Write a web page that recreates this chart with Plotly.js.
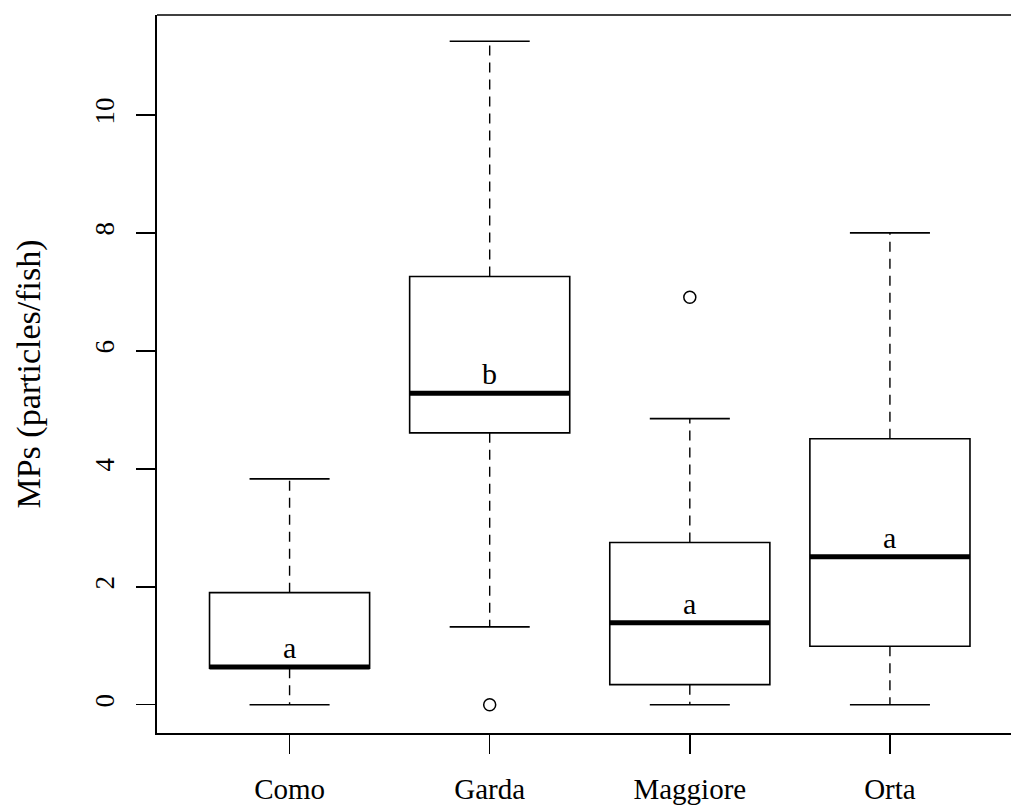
<!DOCTYPE html>
<html>
<head>
<meta charset="utf-8">
<script src="https://cdn.plot.ly/plotly-3.0.1.min.js"></script>
<style>html,body{margin:0;padding:0;background:#fff;overflow:hidden}#chart{width:1011px;height:810px}</style>
</head>
<body>
<div id="chart"></div>
<script>
// ---- data ----
const categories = ['Como', 'Garda', 'Maggiore', 'Orta'];
const q1 = [0.62, 4.61, 0.34, 0.99];
const median = [0.64, 5.28, 1.39, 2.51];
const q3 = [1.90, 7.26, 2.75, 4.51];
const lowerWhisker = [0, 1.32, 0, 0];
const upperWhisker = [3.83, 11.25, 4.85, 8.0];
const outlierCategory = ['Garda', 'Maggiore'];
const outlierValue = [0, 6.91];
const groupLetters = ['a', 'b', 'a', 'a'];
const yTicks = [0, 2, 4, 6, 8, 10];

// ---- styling ----
const FONT = '"Liberation Serif", "Times New Roman", serif';
const BOX_W = 0.8, CAP_W = 0.4;
const pos = categories.map((c, i) => i + 1);

const boxTrace = {
  type: 'box', x: pos, q1: q1, median: median, q3: q3,
  lowerfence: q1, upperfence: q3,
  width: BOX_W, whiskerwidth: 0,
  fillcolor: '#ffffff', line: {color: '#000', width: 1.6},
  boxpoints: false, hoverinfo: 'skip', showlegend: false
};

const wx = [], wy = [];
pos.forEach((p, i) => {
  wx.push(p, p, null, p, p, null);
  wy.push(q3[i], upperWhisker[i], null, q1[i], lowerWhisker[i], null);
});
const whiskers = {type: 'scatter', mode: 'lines', x: wx, y: wy,
  line: {color: '#000', width: 1.4, dash: '10px,7px'}, hoverinfo: 'skip', showlegend: false};

const cx = [], cy = [];
pos.forEach((p, i) => {
  cx.push(p - CAP_W / 2, p + CAP_W / 2, null, p - CAP_W / 2, p + CAP_W / 2, null);
  cy.push(upperWhisker[i], upperWhisker[i], null, lowerWhisker[i], lowerWhisker[i], null);
});
const caps = {type: 'scatter', mode: 'lines', x: cx, y: cy,
  line: {color: '#000', width: 1.6}, hoverinfo: 'skip', showlegend: false};

const mx = [], my = [];
pos.forEach((p, i) => {
  mx.push(p - BOX_W / 2, p + BOX_W / 2, null);
  my.push(median[i], median[i], null);
});
const medians = {type: 'scatter', mode: 'lines', x: mx, y: my,
  line: {color: '#000', width: 5}, hoverinfo: 'skip', showlegend: false};

const outliers = {type: 'scatter', mode: 'markers',
  x: outlierCategory.map(c => categories.indexOf(c) + 1), y: outlierValue,
  marker: {symbol: 'circle-open', size: 12, color: '#000', line: {width: 1.5}},
  hoverinfo: 'skip', showlegend: false};

const annotations = groupLetters.map((t, i) => ({
  x: pos[i], y: median[i], xref: 'x', yref: 'y', text: t, showarrow: false,
  yanchor: 'bottom', yshift: 1, font: {family: FONT, size: 30, color: '#000'}
}));

const layout = {
  width: 1011, height: 810,
  margin: {l: 157, r: 0, t: 15, b: 77},
  paper_bgcolor: '#fff', plot_bgcolor: '#fff',
  font: {family: FONT, color: '#000'},
  showlegend: false,
  xaxis: {
    range: [0.3375, 4.605], tickvals: pos, ticktext: categories,
    ticks: 'outside', ticklen: 19, tickwidth: 1.6, tickcolor: '#000',
    showline: true, linecolor: '#000', linewidth: 1.6,
    showgrid: false, zeroline: false, ticklabelstandoff: 11,
    tickfont: {family: FONT, size: 29, color: '#000'}
  },
  yaxis: {
    range: [-0.48, 11.695], tickvals: yTicks, ticktext: yTicks.map(String),
    ticks: 'outside', ticklen: 19, tickwidth: 1.6, tickcolor: '#000',
    showline: true, linecolor: '#000', linewidth: 1.6,
    showgrid: false, zeroline: false, tickangle: -90, ticklabelstandoff: 12,
    tickfont: {family: FONT, size: 27, color: '#000'},
    title: {text: 'MPs (particles/fish)', font: {family: FONT, size: 34, color: '#000'}, standoff: 38}
  },
  shapes: [{type: 'line', xref: 'paper', yref: 'paper', x0: 0, x1: 1, y0: 1, y1: 1,
    line: {color: '#000', width: 1.6}}],
  annotations: annotations
};

Plotly.newPlot('chart', [boxTrace, whiskers, caps, medians, outliers], layout, {staticPlot: true, displayModeBar: false});
</script>
</body>
</html>
